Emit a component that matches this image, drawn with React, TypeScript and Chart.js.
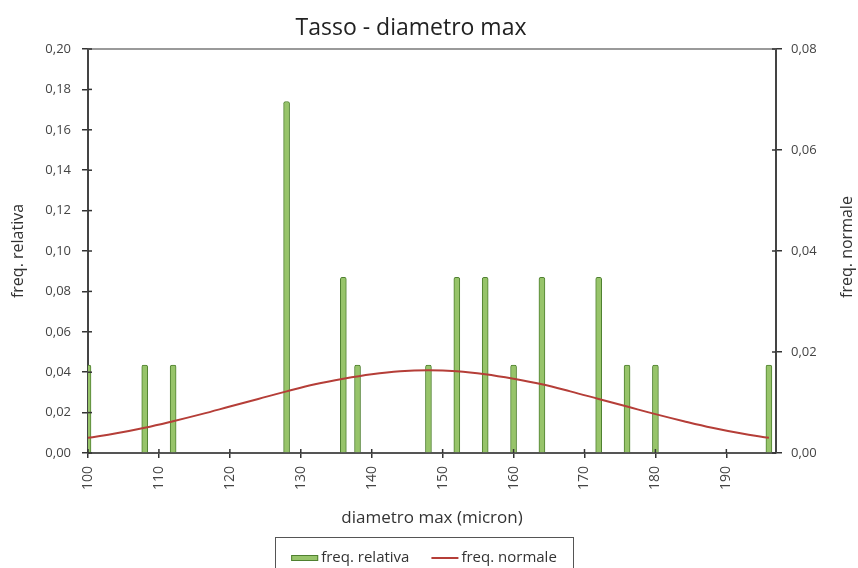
import React, { useEffect, useRef } from "react";
import { Chart, registerables } from "chart.js";

Chart.register(...registerables);

const TITLE = "Tasso - diametro max";
const X_TITLE = "diametro max (micron)";
const Y_LEFT_TITLE = "freq. relativa";
const Y_RIGHT_TITLE = "freq. normale";
const BAR_LABEL = "freq. relativa";
const LINE_LABEL = "freq. normale";

const binCenters = [100, 108, 112, 128, 136, 138, 148, 152, 156, 160, 164, 172, 176, 180, 196];
const relFreq = [0.0435, 0.0435, 0.0435, 0.174, 0.087, 0.0435, 0.0435, 0.087, 0.087, 0.0435, 0.087, 0.087, 0.0435, 0.0435, 0.0435];

const normX = [100, 104, 108, 112, 116, 120, 124, 128, 132, 136, 140, 144, 148, 152, 156, 160, 164, 168, 172, 176, 180, 184, 188, 192, 196];
const normY = [0.003, 0.0039, 0.005, 0.0063, 0.0077, 0.0092, 0.0107, 0.0122, 0.0136, 0.0147, 0.0156, 0.0162, 0.0164, 0.0162, 0.0156, 0.0147, 0.0136, 0.0122, 0.0107, 0.0092, 0.0077, 0.0063, 0.005, 0.0039, 0.003];

const X_MIN = 100;
const X_MAX = 197;
const X_STEP = 10;
const LEFT_MAX = 0.2;
const LEFT_STEP = 0.02;
const RIGHT_MAX = 0.08;
const RIGHT_STEP = 0.02;

const FONT = "'Open Sans', 'DejaVu Sans', sans-serif";
const BAR_FILL = "#97c46a";
const BAR_EDGE = "#4f8030";
const LINE_COLOR = "#b53e38";
const fmt = (v: number) => Number(v).toFixed(2).replace(".", ",");

const decorPlugin = {
  id: "decor",
  afterDraw(chart: any) {
    const { ctx, chartArea } = chart;
    ctx.save();
    // chart title (slightly left of centre, as in the original)
    ctx.fillStyle = "#222";
    ctx.font = `23px ${FONT}`;
    ctx.textAlign = "center";
    ctx.textBaseline = "middle";
    ctx.fillText(TITLE, (chartArea.left + chartArea.right) / 2 - 21, chartArea.top - 21);

    // top border
    ctx.strokeStyle = "#9a9a9a";
    ctx.lineWidth = 2;
    ctx.beginPath();
    ctx.moveTo(chartArea.left, chartArea.top);
    ctx.lineTo(chartArea.right, chartArea.top);
    ctx.stroke();

    // inner tick marks (crossing ticks)
    ctx.strokeStyle = "#333";
    ctx.lineWidth = 1.5;
    const inner = 4;
    const sx = chart.scales.x;
    sx.ticks.forEach((t: any) => {
      const px = sx.getPixelForValue(t.value);
      ctx.beginPath();
      ctx.moveTo(px, chartArea.bottom);
      ctx.lineTo(px, chartArea.bottom - inner);
      ctx.stroke();
    });
    const sy = chart.scales.y;
    sy.ticks.forEach((t: any) => {
      const py = sy.getPixelForValue(t.value);
      ctx.beginPath();
      ctx.moveTo(chartArea.left, py);
      ctx.lineTo(chartArea.left + inner, py);
      ctx.stroke();
    });
    const sy1 = chart.scales.y1;
    sy1.ticks.forEach((t: any) => {
      const py = sy1.getPixelForValue(t.value);
      ctx.beginPath();
      ctx.moveTo(chartArea.right, py);
      ctx.lineTo(chartArea.right - inner, py);
      ctx.stroke();
    });

    // right axis title reading bottom-to-top
    ctx.save();
    ctx.fillStyle = "#333";
    ctx.font = `16px ${FONT}`;
    ctx.textAlign = "center";
    ctx.textBaseline = "middle";
    ctx.translate(chart.width - 11, (chartArea.top + chartArea.bottom) / 2 - 4);
    ctx.rotate(-Math.PI / 2);
    ctx.fillText(Y_RIGHT_TITLE, 0, 0);
    ctx.restore();

    // legend with frame
    ctx.font = `15px ${FONT}`;
    ctx.textAlign = "left";
    ctx.textBaseline = "middle";
    const symW = 27;
    const gap = 3;
    const itemGap = 22;
    const w1 = ctx.measureText(BAR_LABEL).width;
    const w2 = ctx.measureText(LINE_LABEL).width;
    const total = symW + gap + w1 + itemGap + symW + gap + w2;
    const cx = (chartArea.left + chartArea.right) / 2 - 8;
    const ly = chart.height - 10;
    let x = cx - total / 2;
    ctx.strokeStyle = "#555";
    ctx.lineWidth = 1;
    ctx.strokeRect(Math.round(x - 16) + 0.5, Math.round(ly - 21) + 0.5, Math.round(total + 32), 40);
    // bar symbol
    ctx.fillStyle = BAR_FILL;
    ctx.fillRect(x, ly - 3, symW, 6);
    ctx.strokeStyle = BAR_EDGE;
    ctx.strokeRect(x + 0.5, ly - 2.5, symW - 1, 5);
    x += symW + gap;
    ctx.fillStyle = "#333";
    ctx.fillText(BAR_LABEL, x, ly);
    x += w1 + itemGap;
    // line symbol
    ctx.strokeStyle = LINE_COLOR;
    ctx.lineWidth = 2;
    ctx.beginPath();
    ctx.moveTo(x, ly);
    ctx.lineTo(x + symW, ly);
    ctx.stroke();
    x += symW + gap;
    ctx.fillStyle = "#333";
    ctx.fillText(LINE_LABEL, x, ly);
    ctx.restore();
  },
};

export default function App() {
  const ref = useRef<HTMLCanvasElement | null>(null);

  useEffect(() => {
    if (!ref.current) return;
    const barData = binCenters.map((x, i) => ({ x, y: relFreq[i] }));
    const lineData = normX.map((x, i) => ({ x, y: normY[i] }));
    const chart = new Chart(ref.current, {
      type: "bar",
      data: {
        datasets: [
          {
            type: "bar",
            label: BAR_LABEL,
            data: barData as any,
            xAxisID: "x",
            yAxisID: "y",
            backgroundColor: BAR_FILL,
            borderColor: BAR_EDGE,
            borderWidth: 1,
            barThickness: 6,
            borderSkipped: "bottom",
            borderRadius: { topLeft: 2, topRight: 2, bottomLeft: 0, bottomRight: 0 },
            order: 1,
          } as any,
          {
            type: "line",
            label: LINE_LABEL,
            data: lineData as any,
            xAxisID: "x",
            yAxisID: "y1",
            borderColor: LINE_COLOR,
            backgroundColor: LINE_COLOR,
            borderWidth: 2,
            pointRadius: 0,
            tension: 0.4,
            fill: false,
            order: 0,
          } as any,
        ],
      },
      options: {
        animation: false,
        responsive: true,
        maintainAspectRatio: false,
        layout: { padding: { top: 49, bottom: 0, left: 0, right: 0 } },
        plugins: {
          title: { display: false },
          legend: { display: false },
          tooltip: { enabled: false },
        },
        scales: {
          x: {
            type: "linear",
            min: X_MIN,
            max: X_MAX,
            offset: false,
            grid: { display: true, drawOnChartArea: false, offset: false, tickLength: 5, color: "#333", lineWidth: 1.5 },
            border: { display: true, color: "#555", width: 2 },
            ticks: {
              stepSize: X_STEP,
              includeBounds: false,
              maxRotation: 90,
              minRotation: 90,
              autoSkip: false,
              color: "#444",
              padding: 8,
              font: { family: FONT, size: 14 },
              callback: (v: any) => String(v),
            },
            title: {
              display: true,
              text: X_TITLE,
              color: "#333",
              font: { family: FONT, size: 17 },
              padding: { top: 4, bottom: 40 },
            },
            afterFit: (s: any) => {
              s.height = 115;
            },
          } as any,
          y: {
            type: "linear",
            position: "left",
            min: 0,
            max: LEFT_MAX,
            grid: { display: true, drawOnChartArea: false, tickLength: 6, color: "#333", lineWidth: 1.5 },
            border: { display: true, color: "#444", width: 2 },
            ticks: {
              stepSize: LEFT_STEP,
              color: "#444",
              padding: 11,
              font: { family: FONT, size: 13 },
              callback: (v: any) => fmt(v),
            },
            title: {
              display: true,
              text: Y_LEFT_TITLE,
              color: "#333",
              font: { family: FONT, size: 16 },
              padding: { top: 9, bottom: 0 },
            },
            afterFit: (s: any) => {
              s.width = 88;
            },
          } as any,
          y1: {
            type: "linear",
            position: "right",
            min: 0,
            max: RIGHT_MAX,
            grid: { display: true, drawOnChartArea: false, tickLength: 6, color: "#333", lineWidth: 1.5 },
            border: { display: true, color: "#444", width: 2 },
            ticks: {
              stepSize: RIGHT_STEP,
              color: "#444",
              padding: 9,
              font: { family: FONT, size: 13 },
              callback: (v: any) => fmt(v),
            },
            title: { display: false },
            afterFit: (s: any) => {
              s.width = 82;
            },
          } as any,
        },
      },
      plugins: [decorPlugin],
    });
    return () => chart.destroy();
  }, []);

  return (
    <div style={{ position: "absolute", left: 0, top: 0, width: 858, height: 568, background: "#fff" }}>
      <canvas ref={ref} />
    </div>
  );
}
